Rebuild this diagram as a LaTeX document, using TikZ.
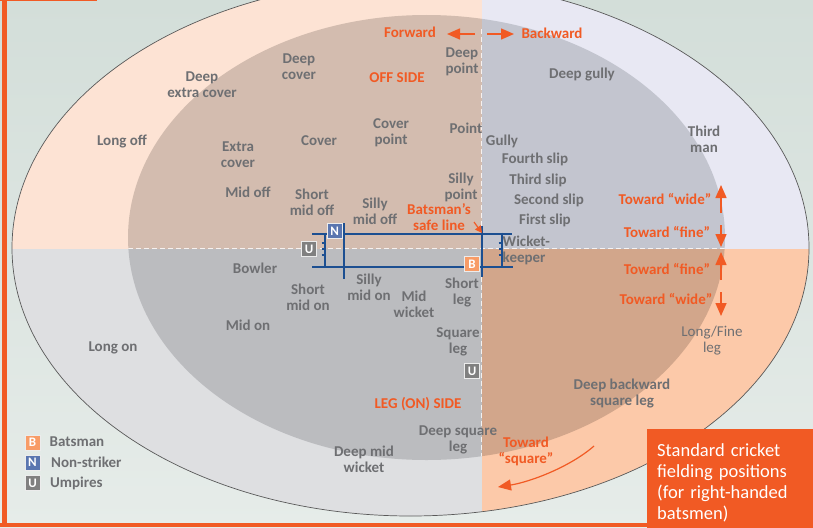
\documentclass[tikz,border=0pt]{standalone}
\usepackage{fontspec}
\setmainfont{Carlito}
\usetikzlibrary{arrows.meta}

\definecolor{groundtop}{HTML}{D3DED9}
\definecolor{groundbot}{HTML}{E6ECE9}
\definecolor{offfwd}{HTML}{FDE3D4}
\definecolor{offback}{HTML}{E8E8F3}
\definecolor{legfwd}{HTML}{DEDFE1}
\definecolor{legback}{HTML}{FCC9A9}
\definecolor{inoffwd}{HTML}{D3BCAF}
\definecolor{inoffback}{HTML}{C3C5CF}
\definecolor{inlegfwd}{HTML}{BBBCBF}
\definecolor{inlegback}{HTML}{D2A68B}
\definecolor{posgrey}{HTML}{6E6F72}
\definecolor{sideorange}{HTML}{F15A24}
\definecolor{creaseblue}{HTML}{1C4F91}
\definecolor{batsorange}{HTML}{F89C67}
\definecolor{strikerblue}{HTML}{5A76B0}
\definecolor{umpgrey}{HTML}{808080}

\newcommand{\posfont}{\fontsize{15}{16}\selectfont\bfseries}
\newcommand{\thinposfont}{\fontsize{15}{16}\selectfont}
\newcommand{\titlefont}{\fontsize{18.5}{21}\selectfont}
\newcommand{\badgefont}{\fontsize{13}{13}\selectfont\bfseries}

\tikzset{
	fielder/.style={font=\posfont, text=posgrey, align=center, inner sep=0pt},
	side/.style={font=\posfont, text=sideorange, align=center, inner sep=0pt},
	legendtext/.style={fielder, anchor=west},
	badge/.style={draw=white!85!gray, line width=0.8pt, minimum size=15pt, inner sep=0pt, font=\badgefont, text=white},
	crease/.style={draw=creaseblue, line width=2pt},
	safedash/.style={draw=white, opacity=0.8, line width=1.4pt, dash pattern=on 5pt off 3pt},
	hint/.style={draw=sideorange, line width=1.5pt, -{Triangle[length=13pt,width=11pt]}},
	smallhint/.style={draw=sideorange, line width=1.2pt, -{Triangle[length=7pt,width=7pt]}},
}

\begin{document}
\begin{tikzpicture}[x=1pt, y=-1pt]
	\useasboundingbox (0,0) rectangle (813,527);
	\shade[top color=groundtop, bottom color=groundbot] (0,0) rectangle (813,527);

	% outfield quarters
	\begin{scope}
		\clip (410.5,248) ellipse [x radius=398.5, y radius=268];
		\fill[offfwd] (0,-30) rectangle (481.5,248.5);
		\fill[offback] (481.5,-30) rectangle (830,248.5);
		\fill[legfwd] (0,248.5) rectangle (481.5,540);
		\fill[legback] (481.5,248.5) rectangle (830,540);
	\end{scope}

	% infield quarters
	\begin{scope}
		\clip (426.5,237.5) ellipse [x radius=298.5, y radius=222.5];
		\fill[inoffwd] (0,-30) rectangle (481.5,248.5);
		\fill[inoffback] (481.5,-30) rectangle (830,248.5);
		\fill[inlegfwd] (0,248.5) rectangle (481.5,540);
		\fill[inlegback] (481.5,248.5) rectangle (830,540);
		\draw[safedash] (481.5,29) -- (481.5,527);
		\draw[safedash] (0,248.5) -- (813,248.5);
	\end{scope}
	\draw[draw=black!65, line width=0.7pt] (410.5,248) ellipse [x radius=398.5, y radius=268];

	% frame
	\fill[sideorange] (1.7,0) rectangle (6.7,527);
	\fill[sideorange] (0,522.5) rectangle (813,527);
	\fill[sideorange] (0,0) rectangle (97,1.2);
	\node[fill=sideorange, text=white, font=\titlefont, align=left, anchor=north west,
		minimum width=166pt, minimum height=108pt, text width=146pt, inner xsep=10pt] (title)
		at (647,429) {Standard cricket\\fielding positions\\(for right-handed\\batsmen)};

	% off side
	\node[fielder] (deepExtraCover) at (202,85) {Deep\\extra cover};
	\node[fielder] (deepCover) at (299,67) {Deep\\cover};
	\node[fielder] (longOff) at (122,141) {Long off};
	\node[fielder] (extraCover) at (238,154.5) {Extra\\cover};
	\node[fielder] (cover) at (319,141) {Cover};
	\node[fielder] (coverPoint) at (391,133) {Cover\\point};
	\node[fielder] (point) at (466,128) {Point};
	\node[fielder] (deepPoint) at (462,61.5) {Deep\\point};
	\node[side] (offSide) at (397,78) {OFF SIDE};
	\node[side] (forward) at (410,32) {Forward};
	\node[side] (backward) at (552,33) {Backward};
	\node[fielder] (deepGully) at (582,75) {Deep gully};
	\node[fielder] (midOff) at (248,192) {Mid off};
	\node[fielder] (shortMidOff) at (312,202.5) {Short\\mid off};
	\node[fielder] (sillyMidOff) at (375,211) {Silly\\mid off};
	\node[fielder] (sillyPoint) at (461,187) {Silly\\point};
	\node[side] (safeLine) at (439,217) {Batsman’s\\safe line};
	\node[fielder] (gully) at (502,141) {Gully};
	\node[fielder] (fourthSlip) at (535,159) {Fourth slip};
	\node[fielder] (thirdSlip) at (538,180) {Third slip};
	\node[fielder] (secondSlip) at (549,200) {Second slip};
	\node[fielder] (firstSlip) at (545,220) {First slip};
	\node[fielder, align=left, anchor=west] (keeper) at (502.5,250) {Wicket-\\keeper};
	\node[fielder] (thirdMan) at (704,139.5) {Third\\man};
	\node[side] (towardWideOff) at (665,199) {Toward “wide”};
	\node[side] (towardFineOff) at (667,232) {Toward “fine”};

	% leg side
	\node[side] (towardFineLeg) at (667,269) {Toward “fine”};
	\node[side] (towardWideLeg) at (666,299) {Toward “wide”};
	\node[fielder, font=\thinposfont] (longFineLeg) at (712,340.5) {Long/Fine\\leg};
	\node[fielder] (bowler) at (255,268) {Bowler};
	\node[fielder] (shortMidOn) at (308,297) {Short\\mid on};
	\node[fielder] (sillyMidOn) at (369,287.5) {Silly\\mid on};
	\node[fielder] (midWicket) at (414,304.5) {Mid\\wicket};
	\node[fielder] (shortLeg) at (462,293) {Short\\leg};
	\node[fielder] (squareLeg) at (458,341.5) {Square\\leg};
	\node[fielder] (midOn) at (248,325) {Mid on};
	\node[fielder] (longOn) at (113,348) {Long on};
	\node[side] (legSide) at (418,404) {LEG (ON) SIDE};
	\node[fielder] (deepSquareLeg) at (458,439.5) {Deep square\\leg};
	\node[fielder] (deepMidWicket) at (364,459.5) {Deep mid\\wicket};
	\node[side] (towardSquare) at (526,451.5) {Toward\\“square”};
	\node[fielder] (deepBackSquare) at (622,394) {Deep backward\\square leg};

	% pitch
	\draw[crease] (312,233.5) -- (512,233.5);
	\draw[crease] (312,266.5) -- (513,266.5);
	\draw[crease] (325,232.5) -- (325,268);
	\draw[crease] (344,223) -- (344,279);
	\draw[crease] (481.5,226) -- (481.5,277);
	\draw[crease] (502,232.5) -- (502,267.5);
	\foreach \y in {243,249,255} {
		\draw[crease, line width=1.4pt] (321.5,\y) -- (325,\y);
		\draw[crease, line width=1.4pt] (498.5,\y) -- (502,\y);
	}

	\node[badge, fill=strikerblue] (nonStriker) at (334.7,230.8) {N};
	\node[badge, fill=umpgrey] (bowlerUmpire) at (309,249) {U};
	\node[badge, fill=batsorange] (batsman) at (472,264) {B};
	\node[badge, fill=umpgrey] (legUmpire) at (472,371) {U};

	% legend
	\node[badge, fill=batsorange] (keyB) at (32.5,442.5) {B};
	\node[badge, fill=strikerblue] (keyN) at (32.5,462.5) {N};
	\node[badge, fill=umpgrey] (keyU) at (32.5,483) {U};
	\node[legendtext] (keyBText) at (49.5,442) {Batsman};
	\node[legendtext] (keyNText) at (51,462.5) {Non-striker};
	\node[legendtext] (keyUText) at (50,483) {Umpires};

	% direction hints
	\coordinate (fwdFrom) at (475,34);
	\coordinate (fwdTo) at (447,34);
	\coordinate (backFrom) at (487,34);
	\coordinate (backTo) at (514,34);
	\draw[hint] (fwdFrom) -- (fwdTo);
	\draw[hint] (backFrom) -- (backTo);

	\coordinate (wideOffFrom) at (721,213);
	\coordinate (wideOffTo) at (721,185);
	\coordinate (fineOffFrom) at (721,225);
	\coordinate (fineOffTo) at (721,247);
	\coordinate (fineLegFrom) at (721,280);
	\coordinate (fineLegTo) at (721,252);
	\coordinate (wideLegFrom) at (721,292);
	\coordinate (wideLegTo) at (721,316);
	\draw[hint] (wideOffFrom) -- (wideOffTo);
	\draw[hint] (fineOffFrom) -- (fineOffTo);
	\draw[hint] (fineLegFrom) -- (fineLegTo);
	\draw[hint] (wideLegFrom) -- (wideLegTo);

	\coordinate (squareFrom) at (594,446);
	\coordinate (squareTo) at (498,487);
	\draw[hint, line width=1.2pt] (squareFrom) .. controls (570,467) and (530,482) .. (squareTo);

	\coordinate (safeFrom) at (474,222);
	\coordinate (safeTip) at (482,233);
	\draw[smallhint] (safeFrom) -- (safeTip);
\end{tikzpicture}
\end{document}
